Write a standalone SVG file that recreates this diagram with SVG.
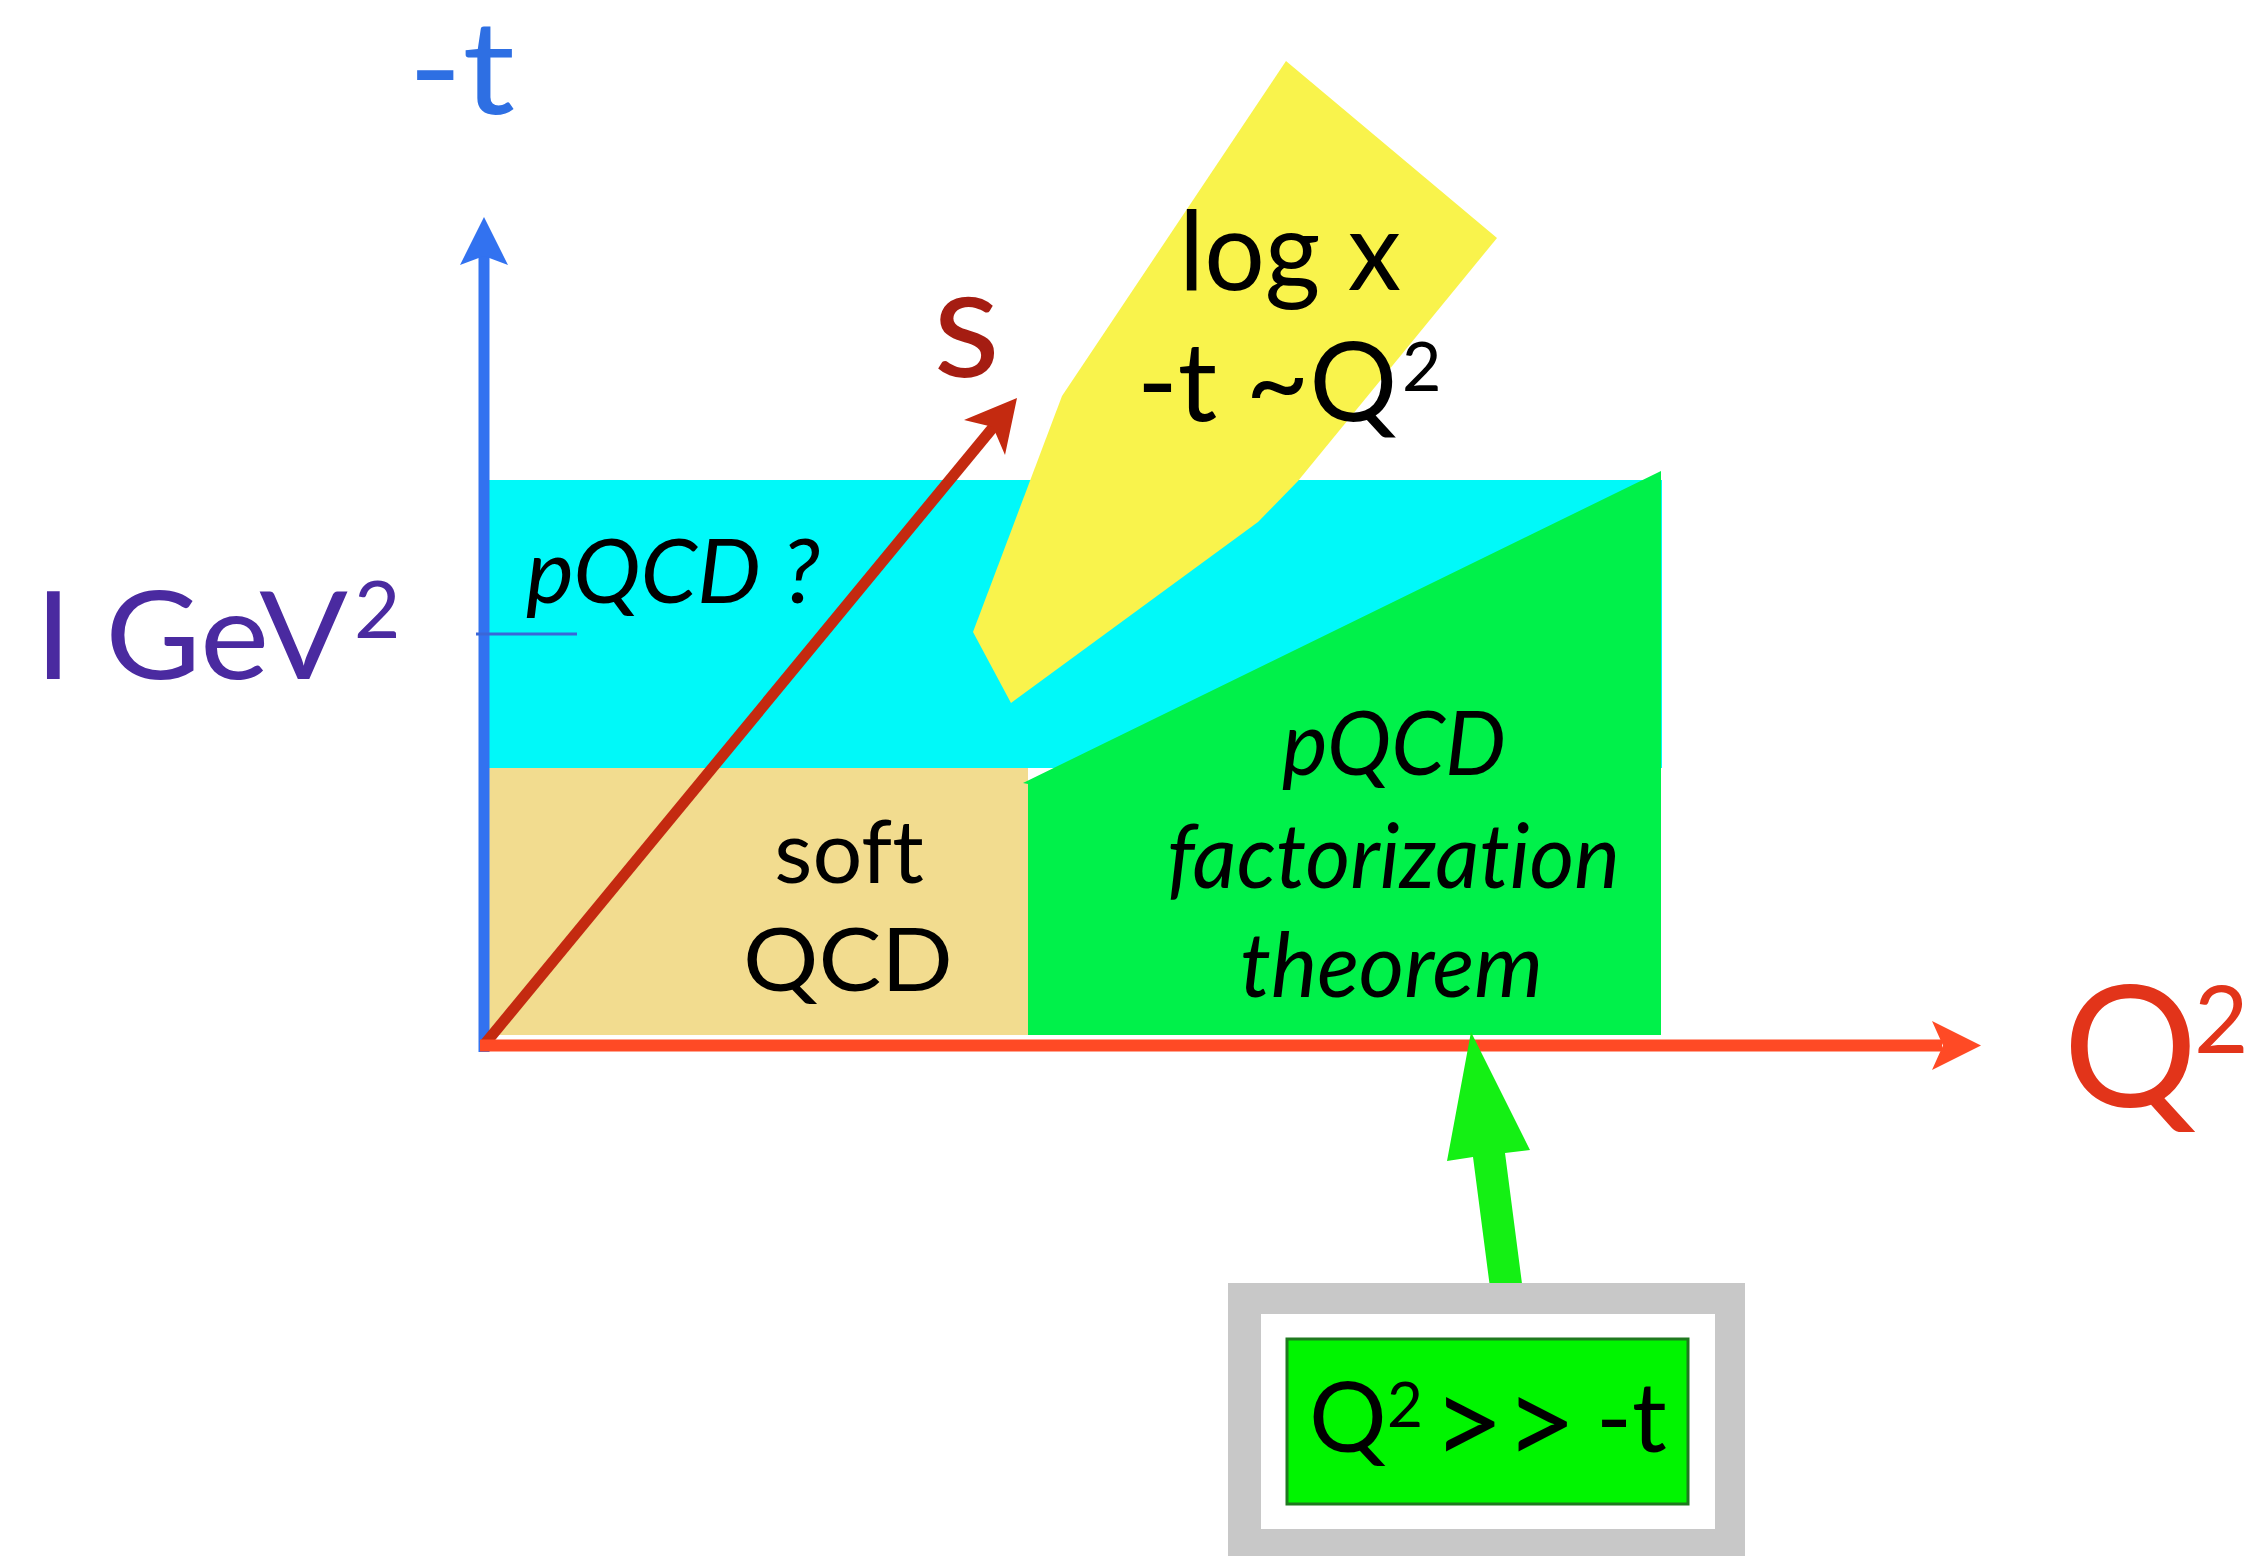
<svg xmlns="http://www.w3.org/2000/svg" width="2250" height="1556" viewBox="0 0 2250 1556">
<style>
.t{font-family:Lato,"Open Sans","DejaVu Sans",sans-serif;font-variant-ligatures:none;font-feature-settings:"liga" 0,"clig" 0}
.it{font-family:Lato,"Open Sans","DejaVu Sans",sans-serif;font-style:italic;font-variant-ligatures:none;font-feature-settings:"liga" 0,"clig" 0}
.blk{fill:#000}
</style>
<rect width="2250" height="1556" fill="#fff"/>
<g id="region-pqcd-question">
<rect x="486" y="480" width="1176" height="288" fill="#00f9f9"/>
</g>
<g id="region-soft-qcd">
<rect x="486" y="768" width="542" height="267" fill="#f2dc8f"/>
</g>
<g id="region-factorization">
<polygon points="1023,783 1661,471 1661,1035 1028,1035 1028,784" fill="#00f14a"/>
</g>
<g id="region-logx">
<polygon points="1286,61 1497,238 1298,481 1258,522 1011,703 973,632 1062,396" fill="#f9f34c"/>
</g>
<g id="connectors">
<line x1="484" y1="1052" x2="484" y2="255" stroke="#3272f0" stroke-width="11"/>
<polygon points="484,217 508,265 484,256 460,265" fill="#3272f0"/>
<line x1="476" y1="634" x2="577" y2="634" stroke="#3a66d8" stroke-width="3"/>
<line x1="484" y1="1045" x2="995" y2="425" stroke="#c42a10" stroke-width="11"/>
<polygon points="1017,398 1005,455 993,427 964,420" fill="#c42a10"/>
<line x1="480" y1="1045.5" x2="1942" y2="1045.5" stroke="#ff4a25" stroke-width="12"/>
<polygon points="1981,1045.5 1932,1070 1943,1045.5 1932,1021" fill="#ff4a25"/>
<polygon points="1492,1303 1473,1157 1447,1161 1471,1032 1530,1150 1505,1153 1524,1299" fill="#14f014"/>
<polygon points="1490,1286 1522,1283 1524,1299 1492,1303" fill="#3cbf3c"/>
</g>
<g id="label-minus-t">
<text class="t" x="408" y="114" font-size="130" fill="#2e6fe3" textLength="107" lengthAdjust="spacingAndGlyphs">-t</text>
</g>
<g id="label-s">
<text class="t" x="933" y="377" font-size="155" fill="#a51d12">s</text>
</g>
<g id="label-gev">
<text class="t" fill="#4a2aa0"><tspan x="35" y="679" font-size="122" textLength="313" lengthAdjust="spacingAndGlyphs">I GeV</tspan><tspan x="354" y="638" font-size="80">2</tspan></text>
</g>
<g id="label-q2">
<text class="t" fill="#e2341a"><tspan x="2063" y="1107" font-size="168">Q</tspan><tspan x="2194" y="1053" font-size="94">2</tspan></text>
</g>
<g id="text-logx">
<text class="t blk" x="1179" y="290" font-size="110" textLength="222" lengthAdjust="spacingAndGlyphs">log x</text>
<text class="t blk"><tspan x="1137" y="421" font-size="110">-t ~Q</tspan><tspan x="1402" y="391" font-size="68">2</tspan></text>
</g>
<g id="text-pqcd-question">
<text class="it blk" x="526" y="603" font-size="90" textLength="294" lengthAdjust="spacingAndGlyphs">pQCD ?</text>
</g>
<g id="text-soft-qcd">
<text class="t blk" x="849" y="883" font-size="88" text-anchor="middle">soft</text>
<text class="t blk" x="743" y="991" font-size="88" textLength="210" lengthAdjust="spacingAndGlyphs">QCD</text>
</g>
<g id="text-factorization">
<text class="it blk" x="1282" y="775" font-size="90" textLength="224" lengthAdjust="spacingAndGlyphs">pQCD</text>
<text class="it blk" x="1167" y="888" font-size="90" textLength="453" lengthAdjust="spacingAndGlyphs">factorization</text>
<text class="it blk" x="1240" y="997" font-size="90" textLength="303" lengthAdjust="spacingAndGlyphs">theorem</text>
</g>
<g id="box-q2-gg-t">
<rect x="1228" y="1283" width="517" height="300" fill="#c8c8c8"/>
<rect x="1261" y="1314" width="454" height="215" fill="#fff"/>
<rect x="1287" y="1339" width="401" height="165" fill="#00f500" stroke="#1f7a1f" stroke-width="3"/>
<text class="t blk"><tspan x="1309" y="1452" font-size="97">Q</tspan><tspan x="1387" y="1427" font-size="62">2</tspan><tspan x="1432" y="1466" font-size="125">&gt;&gt;</tspan><tspan x="1596" y="1452" font-size="97">-t</tspan></text>
</g>
</svg>
